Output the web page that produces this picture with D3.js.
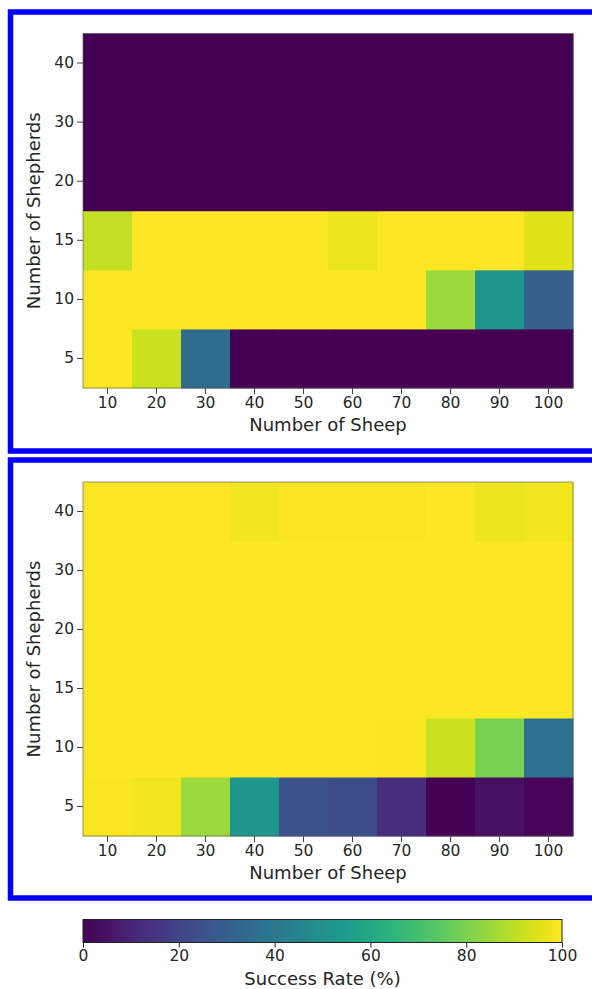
<!DOCTYPE html>
<html>
<head>
<meta charset="utf-8">
<script src="https://cdn.jsdelivr.net/npm/d3@7"></script>
<style>
  html, body { margin: 0; padding: 0; background: #fff; }
  svg { display: block; }
  text { font-family: "DejaVu Sans", sans-serif; fill: #262626; }
</style>
</head>
<body>
<svg id="chart" width="592" height="989"></svg>
<script>
// Sheep counts along x, shepherd counts along y (bottom to top)
const sheep = [10, 20, 30, 40, 50, 60, 70, 80, 90, 100];
const shepherds = [5, 10, 15, 20, 30, 40];

// Success rate (%) per shepherd row, one value per sheep count
const successTop = [
  /* 5  */ [100, 92, 35, 0, 0, 0, 0, 0, 0, 0],
  /* 10 */ [100, 100, 100, 100, 100, 100, 100, 85, 52, 30],
  /* 15 */ [91, 100, 100, 100, 100, 97, 100, 100, 100, 95],
  /* 20 */ [0, 0, 0, 0, 0, 0, 0, 0, 0, 0],
  /* 30 */ [0, 0, 0, 0, 0, 0, 0, 0, 0, 0],
  /* 40 */ [0, 0, 0, 0, 0, 0, 0, 0, 0, 0]
];
const successBottom = [
  /* 5  */ [99, 98, 85, 52, 25, 24, 13, 0, 4, 1],
  /* 10 */ [100, 100, 100, 100, 100, 100, 99, 92, 80, 37],
  /* 15 */ [100, 100, 100, 100, 100, 100, 100, 100, 100, 100],
  /* 20 */ [100, 100, 100, 100, 100, 100, 100, 100, 100, 100],
  /* 30 */ [100, 100, 100, 100, 100, 100, 100, 100, 100, 100],
  /* 40 */ [100, 100, 100, 98, 99, 99, 99, 100, 97, 98]
];
const colorbarTicks = [0, 20, 40, 60, 80, 100];

const svg = d3.select("#chart");
const color = d3.scaleSequential(d3.interpolateViridis).domain([0, 100]);

const plotLeft = 83, plotRight = 573;
const panels = [
  { data: successTop, top: 33.5, bottom: 388, box: [10.5, 12, 451] },
  { data: successBottom, top: 482, bottom: 836, box: [10.5, 460, 898] }
];

panels.forEach(p => {
  // framing box around each panel (runs past the right edge)
  svg.append("rect")
    .attr("x", p.box[0]).attr("y", p.box[1])
    .attr("width", 620).attr("height", p.box[2] - p.box[1])
    .attr("fill", "none").attr("stroke", "#0000ff").attr("stroke-width", 5.5);

  const x = d3.scaleBand().domain(sheep).range([plotLeft, plotRight]);
  const y = d3.scaleBand().domain(shepherds).range([p.bottom, p.top]);

  const g = svg.append("g");
  shepherds.forEach((s, i) => {
    g.selectAll(null)
      .data(p.data[i].map((v, j) => ({ v, sheep: sheep[j] })))
      .join("rect")
      .attr("x", d => x(d.sheep))
      .attr("y", y(s))
      .attr("width", x.bandwidth() + 0.5)
      .attr("height", y.bandwidth() + 0.5)
      .attr("fill", d => color(d.v));
  });

  // spines
  svg.append("rect")
    .attr("x", plotLeft).attr("y", p.top)
    .attr("width", plotRight - plotLeft).attr("height", p.bottom - p.top)
    .attr("fill", "none").attr("stroke", "#555").attr("stroke-opacity", 0.6).attr("stroke-width", 1);

  const xAxis = svg.append("g")
    .attr("transform", `translate(0,${p.bottom})`)
    .call(d3.axisBottom(x).tickSize(6).tickPadding(3).tickSizeOuter(0));
  const yAxis = svg.append("g")
    .attr("transform", `translate(${plotLeft},0)`)
    .call(d3.axisLeft(y).tickSize(6).tickPadding(3).tickSizeOuter(0));
  [xAxis, yAxis].forEach(a => {
    a.select(".domain").remove();
    a.selectAll(".tick line").attr("stroke", "#444");
    a.selectAll(".tick text").attr("font-size", 15.5).attr("fill", "#262626")
      .attr("font-family", "DejaVu Sans, sans-serif");
  });

  svg.append("text")
    .attr("x", (plotLeft + plotRight) / 2).attr("y", p.bottom + 43)
    .attr("text-anchor", "middle").attr("font-size", 18)
    .text("Number of Sheep");
  svg.append("text")
    .attr("transform", `translate(40,${(p.top + p.bottom) / 2}) rotate(-90)`)
    .attr("text-anchor", "middle").attr("font-size", 18)
    .text("Number of Shepherds");
});

// colorbar
const cbLeft = 83, cbRight = 562, cbTop = 919.5, cbBottom = 942.5;
const cbScale = d3.scaleLinear().domain([0, 100]).range([cbLeft, cbRight]);
const grad = svg.append("defs").append("linearGradient").attr("id", "viridis-grad");
d3.range(0, 101, 5).forEach(v => {
  grad.append("stop").attr("offset", `${v}%`).attr("stop-color", color(v));
});
svg.append("rect")
  .attr("x", cbLeft).attr("y", cbTop)
  .attr("width", cbRight - cbLeft).attr("height", cbBottom - cbTop)
  .attr("fill", "url(#viridis-grad)")
  .attr("stroke", "#222").attr("stroke-width", 1);
const cbAxis = svg.append("g")
  .attr("transform", `translate(0,${cbBottom})`)
  .call(d3.axisBottom(cbScale).tickValues(colorbarTicks).tickSize(5).tickPadding(2).tickSizeOuter(0));
cbAxis.select(".domain").remove();
cbAxis.selectAll(".tick line").attr("stroke", "#222");
cbAxis.selectAll(".tick text").attr("font-size", 15.5).attr("fill", "#262626")
  .attr("font-family", "DejaVu Sans, sans-serif");
svg.append("text")
  .attr("x", (cbLeft + cbRight) / 2).attr("y", 985)
  .attr("text-anchor", "middle").attr("font-size", 18)
  .text("Success Rate (%)");
</script>
</body>
</html>
